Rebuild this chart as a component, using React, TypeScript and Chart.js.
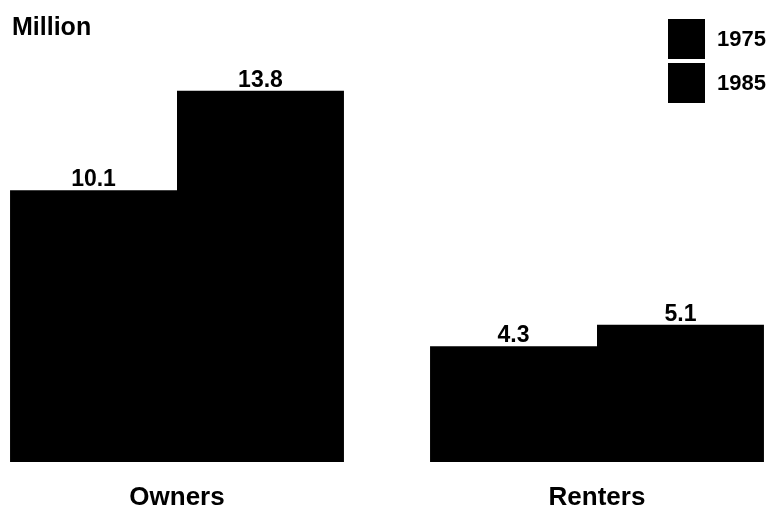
import React, { useEffect, useRef } from "react";
import { Chart, registerables } from "chart.js";

Chart.register(...registerables);

const categories = ["Owners", "Renters"];
const seriesNames = ["1975", "1985"];
const values1975 = [10.1, 4.3];
const values1985 = [13.8, 5.1];
const unitLabel = "Million";

const FONT = "'Liberation Sans', Arial, sans-serif";

const valueLabelPlugin = {
  id: "valueLabels",
  afterDatasetsDraw(chart: any) {
    const ctx = chart.ctx;
    ctx.save();
    ctx.fillStyle = "#000";
    ctx.font = `bold 23px ${FONT}`;
    ctx.textAlign = "center";
    ctx.textBaseline = "alphabetic";
    chart.data.datasets.forEach((ds: any, di: number) => {
      const meta = chart.getDatasetMeta(di);
      meta.data.forEach((bar: any, i: number) => {
        const v = ds.data[i];
        ctx.fillText(v.toFixed(1), bar.x, bar.y - 4);
      });
    });
    ctx.restore();
  },
};

const decorPlugin = {
  id: "decor",
  afterDraw(chart: any) {
    const ctx = chart.ctx;
    ctx.save();
    ctx.fillStyle = "#000";
    ctx.font = `bold 25px ${FONT}`;
    ctx.textAlign = "left";
    ctx.textBaseline = "alphabetic";
    ctx.fillText(unitLabel, 12, 35);
    // legend
    ctx.font = `bold 22px ${FONT}`;
    ctx.textBaseline = "middle";
    chart.data.datasets.forEach((ds: any, i: number) => {
      const top = 19 + i * 44;
      ctx.fillStyle = ds.backgroundColor;
      ctx.fillRect(668, top, 37, 40);
      ctx.fillStyle = "#000";
      ctx.fillText(ds.label, 717, top + 21);
    });
    ctx.restore();
  },
};

export default function App() {
  const ref = useRef<HTMLCanvasElement>(null);
  useEffect(() => {
    document.body.style.margin = "0";
    const chart = new Chart(ref.current!, {
      type: "bar",
      data: {
        labels: categories,
        datasets: [
          { label: seriesNames[0], data: values1975, backgroundColor: "#000", borderWidth: 0 },
          { label: seriesNames[1], data: values1985, backgroundColor: "#000", borderWidth: 0 },
        ],
      },
      options: {
        responsive: false,
        animation: false,
        layout: { padding: { left: 177, right: 176, top: 58.5, bottom: 0 } },
        datasets: { bar: { categoryPercentage: 0.795, barPercentage: 1, clip: false } } as any,
        plugins: {
          legend: { display: false },
          tooltip: { enabled: false },
          title: { display: false },
        },
        scales: {
          x: {
            offset: false,
            grid: { display: false, drawTicks: false },
            border: { display: false },
            afterFit(scale: any) {
              scale.height = 54;
            },
            ticks: {
              color: "#000",
              padding: 20,
              font: { family: FONT, size: 26, weight: "bold" },
            },
          },
          y: {
            display: false,
            min: 0,
            max: 15,
          },
        },
      },
      plugins: [valueLabelPlugin, decorPlugin],
    });
    return () => chart.destroy();
  }, []);
  return (
    <div style={{ position: "absolute", left: 0, top: 0, width: 773, height: 516, background: "#fff" }}>
      <canvas ref={ref} width={773} height={516} />
    </div>
  );
}
